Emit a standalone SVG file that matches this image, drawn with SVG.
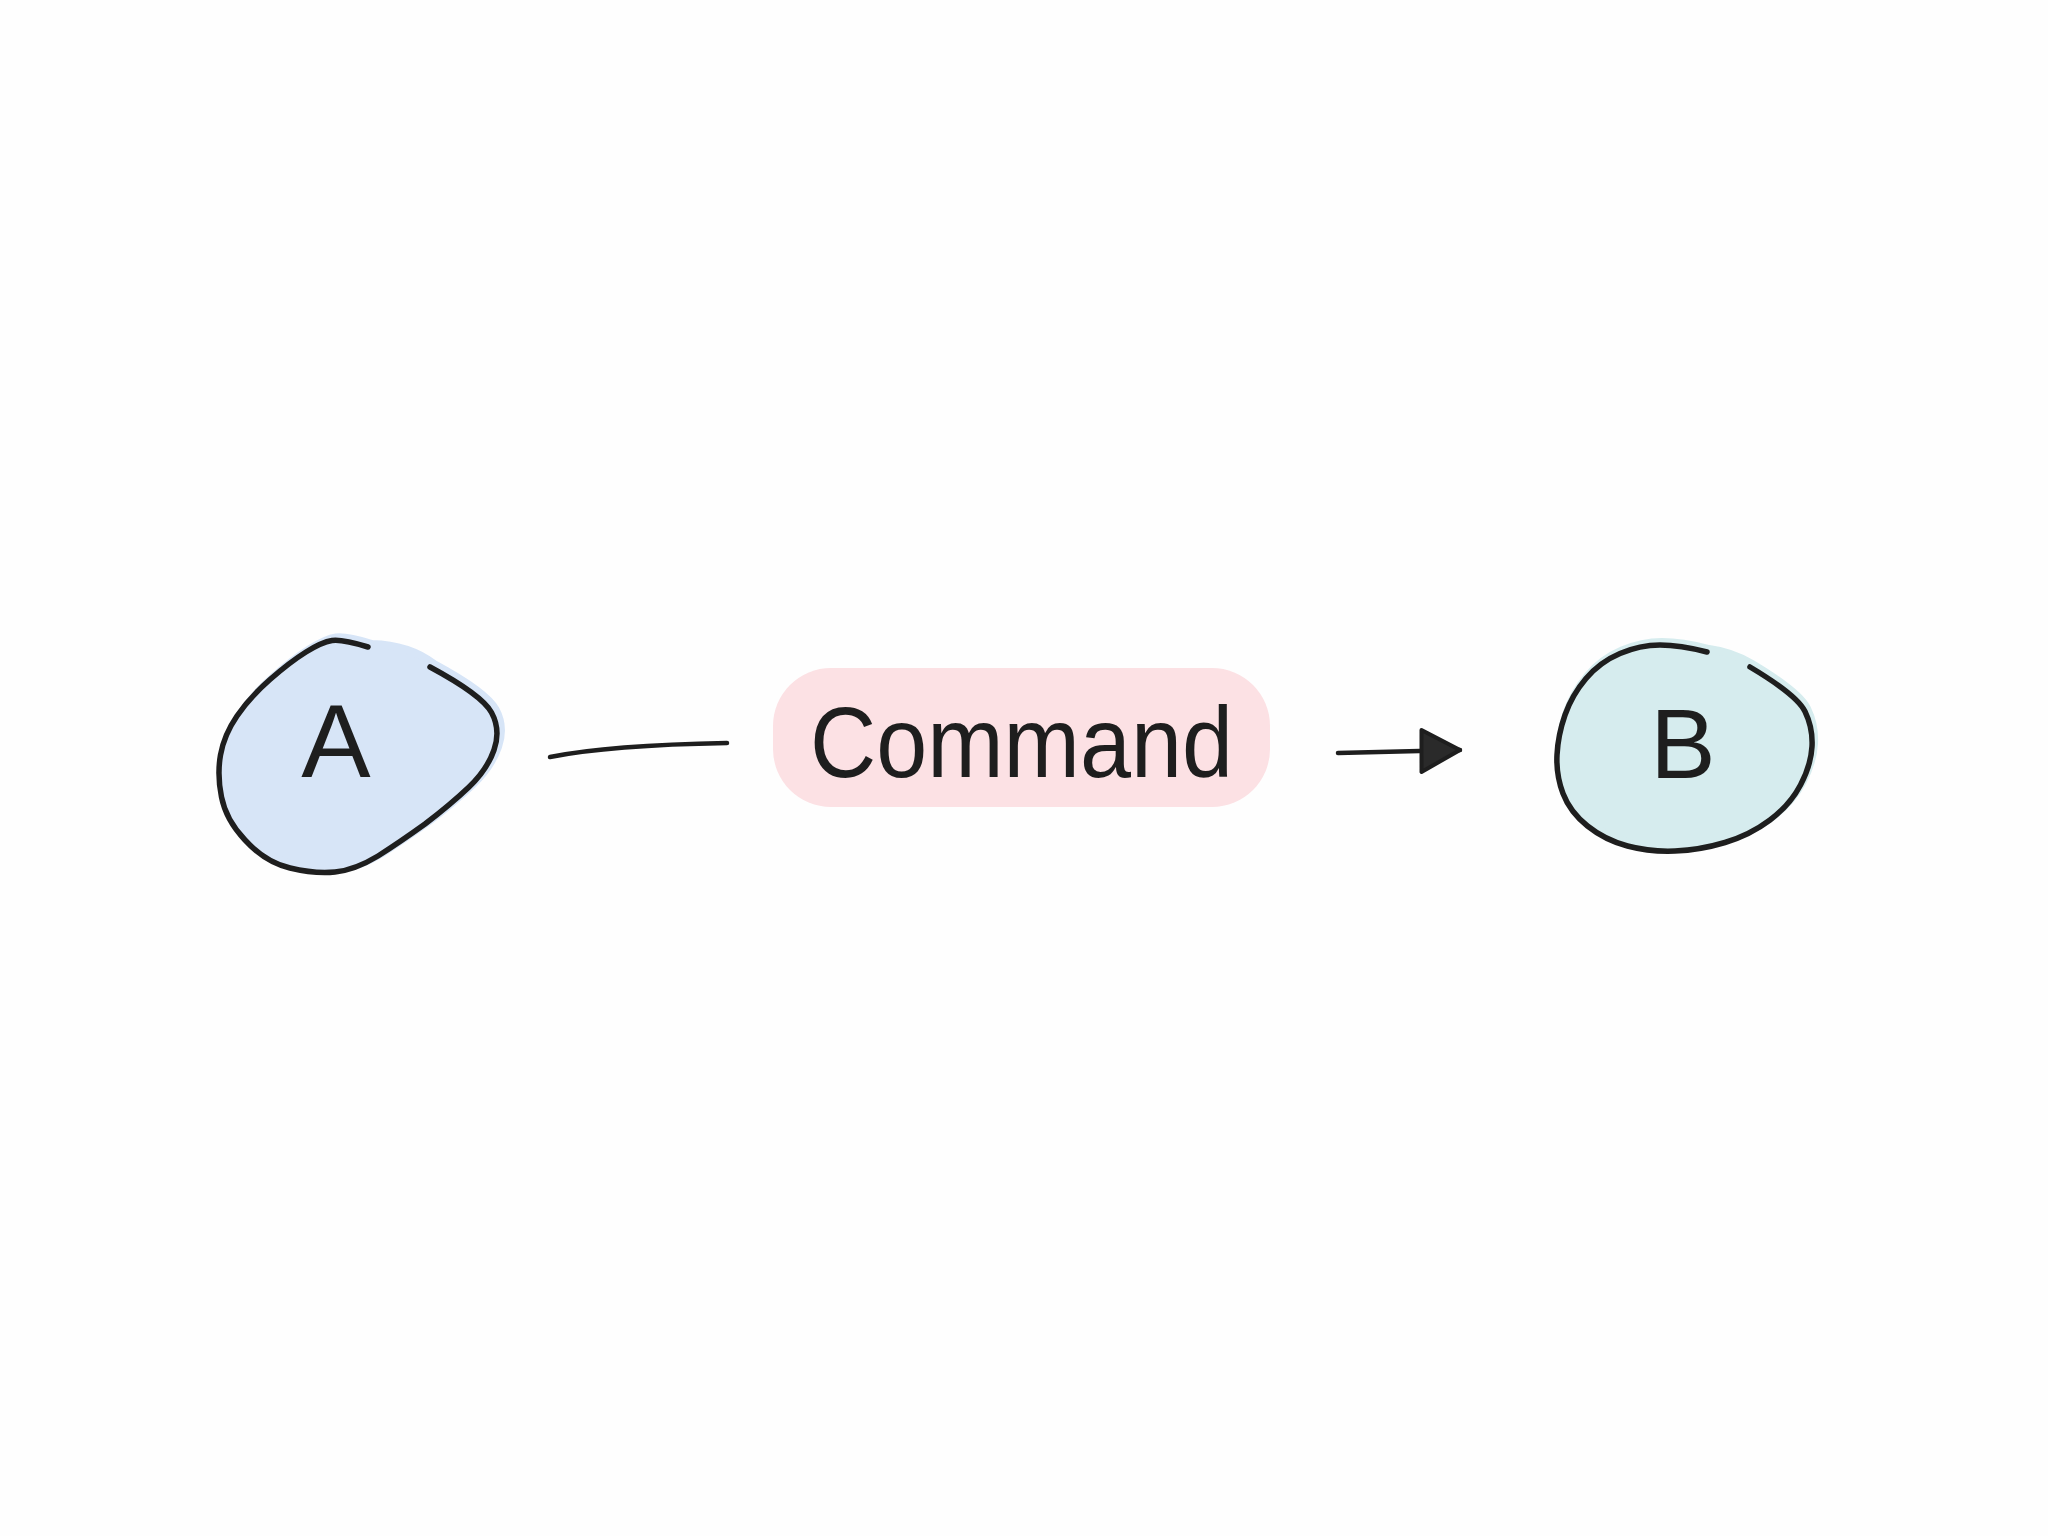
<svg xmlns="http://www.w3.org/2000/svg" width="2048" height="1536" viewBox="0 0 2048 1536">
  <style>
    .outline { fill: none; stroke: #1e1e1e; stroke-width: 5.5; stroke-linecap: round; stroke-linejoin: round; }
    .conn { fill: none; stroke: #1e1e1e; stroke-width: 4.5; stroke-linecap: round; }
    .lbl { font-family: "Liberation Sans", "DejaVu Sans", sans-serif; fill: #1e1e1e; }
  </style>
  <defs>
    <marker id="arrow" markerUnits="userSpaceOnUse" viewBox="0 0 46 48" refX="42" refY="24" markerWidth="46" markerHeight="48" orient="auto">
      <path d="M4,3 L42,24 L3,45 Z" fill="#2a2a2a" stroke="#1e1e1e" stroke-width="4" stroke-linejoin="round"/>
    </marker>
  </defs>
  <rect x="0" y="0" width="2048" height="1536" fill="#fefefe"/>

  <g id="node-A">
    <path d="M368,647 Q342,639 332,640.5 Q322,642 306,652 Q290,662 270,679.5 Q250,697 237,716 Q224,735 220.5,755 Q217,775 221.5,797 Q226,820 245,840 Q265,862 290,868 Q315,874 335,872 Q355,870 378,856 Q400,842 425,824 Q450,805 468.5,787.5 Q487,770 494,750 Q501,730 491.5,712.5 Q482,695 430,667 Q405,648 368,647 Z" fill="#d7e5f7" stroke="#d7e5f7" stroke-width="8" transform="translate(4,-3)"/>
    <path class="outline" d="M368,647 Q342,639 332,640.5 Q322,642 306,652 Q290,662 270,679.5 Q250,697 237,716 Q224,735 220.5,755 Q217,775 221.5,797 Q226,820 245,840 Q265,862 290,868 Q315,874 335,872 Q355,870 378,856 Q400,842 425,824 Q450,805 468.5,787.5 Q487,770 494,750 Q501,730 491.5,712.5 Q482,695 430,667"/>
    <text class="lbl" x="336" y="777" font-size="104" text-anchor="middle">A</text>
  </g>

  <g id="label-command">
    <rect x="773" y="668" width="497" height="139" rx="58" ry="58" fill="#fce1e4"/>
    <text class="lbl" x="810" y="777" font-size="100" textLength="423" lengthAdjust="spacingAndGlyphs">Command</text>
  </g>

  <g id="node-B">
    <path d="M1707,652 Q1680,645 1660,645 Q1640,645 1620,653.5 Q1600,662 1586,678.5 Q1572,695 1565,715 Q1558,735 1557,755 Q1556,775 1563,793.5 Q1570,812 1587.5,826 Q1605,840 1627.5,846 Q1650,852 1675,851 Q1700,850 1725,842.5 Q1750,835 1770,820 Q1790,805 1800.5,785 Q1811,765 1812,746.5 Q1813,728 1805,711.5 Q1797,695 1750,667 Q1730,655 1707,652 Z" fill="#d6ecee" stroke="#d6ecee" stroke-width="8" transform="translate(2,-3)"/>
    <path class="outline" d="M1707,652 Q1680,645 1660,645 Q1640,645 1620,653.5 Q1600,662 1586,678.5 Q1572,695 1565,715 Q1558,735 1557,755 Q1556,775 1563,793.5 Q1570,812 1587.5,826 Q1605,840 1627.5,846 Q1650,852 1675,851 Q1700,850 1725,842.5 Q1750,835 1770,820 Q1790,805 1800.5,785 Q1811,765 1812,746.5 Q1813,728 1805,711.5 Q1797,695 1750,667"/>
    <text class="lbl" x="1683" y="778" font-size="98" text-anchor="middle">B</text>
  </g>

  <g id="connectors">
    <path class="conn" d="M550,757 Q610,745 727,743"/>
    <path class="conn" d="M1338,753 L1460,750" marker-end="url(#arrow)"/>
  </g>
</svg>
